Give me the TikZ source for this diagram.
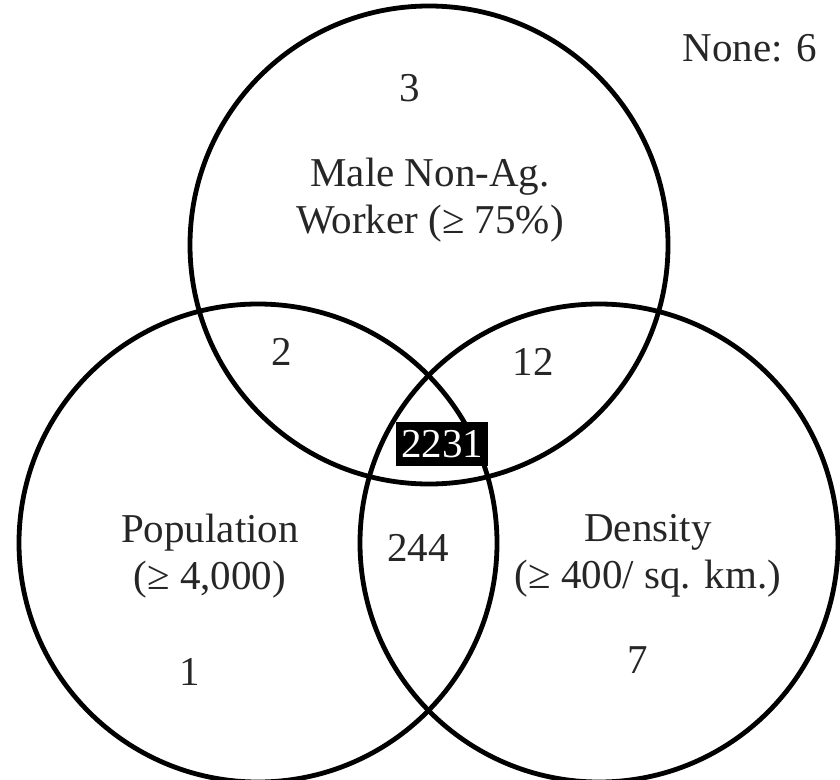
\documentclass[tikz,border=0pt]{standalone}
\usepackage{fontspec}
\setmainfont{Liberation Serif}
\begin{document}
\begin{tikzpicture}[
    x=1pt, y=-1pt,
    setcircle/.style={circle, draw=black, line width=4.8pt, minimum size=478pt, inner sep=0pt},
    vlabel/.style={font=\fontsize{41}{47}\selectfont, align=center, text=black!85},
    countbox/.style={fill=black, text=white, font=\fontsize{41}{47}\selectfont, inner sep=1pt, minimum width=92pt, minimum height=44pt},
]
\useasboundingbox (0,0) rectangle (840,779);
\node[setcircle] (worker) at (429,245) {};
\node[setcircle] (pop) at (258,543) {};
\node[setcircle] (dens) at (599,543) {};

% region counts
\node[vlabel] (nworker) at (410,88) {3};
\node[vlabel] (nwp) at (282,352) {2};
\node[vlabel] (nwd) at (533,362) {12};
\node[countbox] (nall) at (442,444) {2231};
\node[vlabel] (npd) at (418,548) {244};
\node[vlabel] (npop) at (190,672) {1};
\node[vlabel] (ndens) at (638,660) {7};
\node[vlabel] (nnone) at (750,48) {None: 6};

% set names
\node[vlabel] (lworker) at (430,200) {Male Non-Ag.\\Worker (≥ 75\%)};
\node[vlabel] (lpop) at (210,556) {Population\\(≥ 4,000)};
\node[vlabel] (ldens) at (648,556) {Density\\(≥ 400/ sq. km.)};
\end{tikzpicture}
\end{document}
